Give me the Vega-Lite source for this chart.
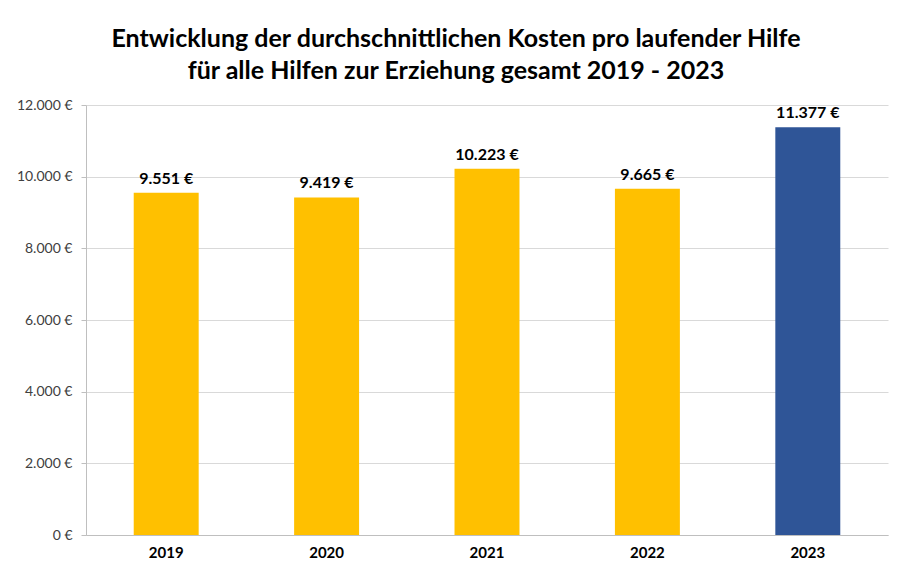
{
  "$schema": "https://vega.github.io/schema/vega-lite/v6.json",
  "width": 802,
  "height": 430,
  "autosize": {"type": "none"},
  "padding": {"left": 86, "top": 105, "right": 18, "bottom": 36},
  "background": "white",
  "title": {
    "text": ["Entwicklung der durchschnittlichen Kosten pro laufender Hilfe", "für alle Hilfen zur Erziehung gesamt 2019 - 2023"],
    "font": "Lato",
    "fontSize": 25,
    "fontWeight": "bold",
    "color": "#000000",
    "anchor": "middle",
    "dx": -31,
    "offset": 14,
    "lineHeight": 32
  },
  "data": {
    "values": [
      {"Jahr": "2019", "Kosten": 9551},
      {"Jahr": "2020", "Kosten": 9419},
      {"Jahr": "2021", "Kosten": 10223},
      {"Jahr": "2022", "Kosten": 9665},
      {"Jahr": "2023", "Kosten": 11377}
    ]
  },
  "encoding": {
    "x": {
      "field": "Jahr",
      "type": "nominal",
      "scale": {"paddingInner": 0.595, "paddingOuter": 0.2975},
      "axis": {
        "title": null,
        "labelAngle": 0,
        "labelFont": "Lato",
        "labelFontSize": 15,
        "labelFontWeight": "bold",
        "labelColor": "#000000",
        "labelPadding": 10,
        "ticks": false,
        "domainColor": "#bfbfbf",
        "grid": false
      }
    },
    "y": {
      "field": "Kosten",
      "type": "quantitative",
      "scale": {"domain": [0, 12000], "nice": false},
      "axis": {
        "title": null,
        "values": [0, 2000, 4000, 6000, 8000, 10000, 12000],
        "format": "$,.0f",
        "labelFont": "Lato",
        "labelFontSize": 14,
        "labelColor": "#404040",
        "labelPadding": 9,
        "tickSize": 5,
        "tickColor": "#bfbfbf",
        "domainColor": "#bfbfbf",
        "gridColor": "#d9d9d9"
      }
    }
  },
  "layer": [
    {
      "mark": {"type": "bar"},
      "encoding": {
        "color": {
          "condition": {"test": "datum.Jahr == '2023'", "value": "#2F5597"},
          "value": "#FFC000"
        }
      }
    },
    {
      "mark": {"type": "text", "baseline": "bottom", "dy": -6, "font": "Lato", "fontSize": 16, "fontWeight": "bold", "color": "#000000"},
      "encoding": {
        "text": {"field": "Kosten", "type": "quantitative", "format": "$,.0f"}
      }
    }
  ],
  "config": {
    "view": {"stroke": null},
    "locale": {
      "number": {"decimal": ",", "thousands": ".", "grouping": [3], "currency": ["", " €"]}
    }
  }
}
